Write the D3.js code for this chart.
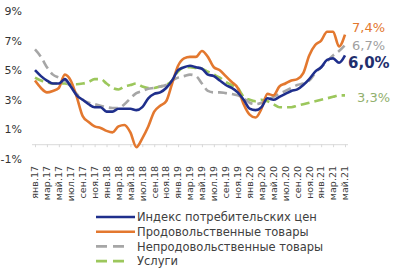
<!DOCTYPE html>
<html>
<head>
<meta charset="utf-8">
<script src="https://cdn.jsdelivr.net/npm/d3@7"></script>
<style>
  body { margin: 0; background: #fff; }
  text { font-family: "DejaVu Sans", Verdana, sans-serif; }
</style>
</head>
<body>
<div id="chart"></div>
<script>
/* DATA */
const monthNames = ["янв", "фев", "мар", "апр", "май", "июн", "июл", "авг", "сен", "окт", "ноя", "дек"];
// Jan 2017 .. May 2021, monthly
const months = d3.range(53).map(i => monthNames[i % 12] + "." + (17 + Math.floor(i / 12)));

const cpi = [5.0, 4.6, 4.3, 4.1, 4.1, 4.4, 3.9, 3.3, 3.0, 2.7, 2.5, 2.5,
  2.2, 2.2, 2.4, 2.4, 2.4, 2.3, 2.5, 3.1, 3.4, 3.5, 3.8, 4.3,
  5.0, 5.2, 5.3, 5.2, 5.1, 4.7, 4.6, 4.3, 4.0, 3.8, 3.5, 3.0,
  2.4, 2.3, 2.5, 3.1, 3.0, 3.2, 3.4, 3.6, 3.7, 4.0, 4.4, 4.9,
  5.2, 5.7, 5.8, 5.5, 6.0];
const food = [4.3, 3.8, 3.5, 3.6, 3.8, 4.7, 4.3, 3.2, 1.9, 1.5, 1.2, 1.1,
  0.9, 0.8, 1.2, 1.3, 0.8, -0.2, 0.4, 1.2, 2.2, 2.6, 2.9, 4.1,
  5.3, 5.8, 5.9, 5.9, 6.3, 5.9, 5.2, 5.0, 4.6, 4.2, 3.8, 2.7,
  2.0, 1.8, 2.4, 3.4, 3.3, 3.9, 4.1, 4.3, 4.4, 4.8, 6.0, 6.7,
  7.0, 7.6, 7.6, 6.6, 7.4];
const nonFood = [6.4, 5.9, 5.2, 4.7, 4.5, 4.3, 3.9, 3.4, 3.0, 2.8, 2.7, 2.6,
  2.5, 2.45, 2.45, 2.7, 3.1, 3.45, 3.6, 3.75, 3.8, 3.9, 4.0, 4.3,
  4.5, 4.6, 4.7, 4.6, 4.1, 3.6, 3.5, 3.5, 3.45, 3.4, 3.3, 3.1,
  2.8, 2.7, 2.8, 3.0, 3.2, 3.4, 3.6, 3.8, 4.0, 4.1, 4.3, 4.8,
  5.2, 5.6, 6.0, 6.3, 6.7];
const services = [4.5, 4.3, 4.2, 4.1, 4.1, 4.1, 4.05, 4.05, 4.1, 4.2, 4.4, 4.4,
  4.1, 3.8, 3.7, 3.9, 4.0, 4.1, 3.9, 3.8, 3.8, 3.9, 4.0, 4.3,
  4.9, 5.2, 5.2, 5.15, 5.1, 4.9, 4.7, 4.5, 4.2, 4.0, 3.8, 3.2,
  3.0, 2.9, 3.0, 2.9, 2.7, 2.5, 2.5, 2.5, 2.6, 2.7, 2.8, 2.9,
  3.0, 3.1, 3.2, 3.3, 3.3];

const yTicks = [9, 7, 5, 3, 1, -1];
const seriesNames = ["Индекс потребительских цен", "Продовольственные товары", "Непродовольственные товары", "Услуги"];
const lastLabels = ["6,0%", "7,4%", "6,7%", "3,3%"];

/* LAYOUT */
const width = 400, height = 272;

const series = [
  { name: seriesNames[0], values: cpi, color: "#1f2f8c", dash: null, label: lastLabels[0] },
  { name: seriesNames[1], values: food, color: "#e3782f", dash: null, label: lastLabels[1] },
  { name: seriesNames[2], values: nonFood, color: "#a6a6a6", dash: "9,5", label: lastLabels[2] },
  { name: seriesNames[3], values: services, color: "#9cc75c", dash: "9,5", label: lastLabels[3] }
];

const xScale = d3.scalePoint()
  .domain(months)
  .range([35, 345]);

const yScale = d3.scaleLinear()
  .domain([-1, 9])
  .range([159, 11]);

const svg = d3.select("#chart")
  .append("svg")
  .attr("width", width)
  .attr("height", height);

// y labels (no axis line)
svg.append("g")
  .selectAll("text")
  .data(yTicks)
  .join("text")
  .attr("x", 22)
  .attr("y", d => yScale(d))
  .attr("dy", "0.36em")
  .attr("text-anchor", "end")
  .attr("font-size", 11)
  .attr("fill", "#333")
  .text(d => d + "%");

// x axis at 0%
const xAxis = d3.axisBottom(xScale)
  .tickValues(months.filter((d, i) => i % 2 === 0))
  .tickSize(3)
  .tickFormat("");

const xg = svg.append("g")
  .attr("transform", `translate(0, ${yScale(0)})`)
  .call(xAxis);
xg.select(".domain").attr("stroke", "#d9d9d9").attr("d", "M32,0.5H348");
xg.selectAll(".tick line").attr("stroke", "#d9d9d9");

// x labels, rotated, at the bottom
svg.append("g")
  .selectAll("text")
  .data(months.filter((d, i) => i % 2 === 0))
  .join("text")
  .attr("transform", d => `translate(${xScale(d)}, 166) rotate(-90)`)
  .attr("dy", "0.35em")
  .attr("text-anchor", "end")
  .attr("font-size", 9.5)
  .attr("fill", "#404040")
  .text(d => d);

// lines
const line = d3.line()
  .x((d, i) => xScale(months[i]))
  .y(d => yScale(d))
  .curve(d3.curveMonotoneX);

svg.selectAll("path.line")
  .data(series.slice().reverse())
  .join("path")
  .attr("class", "line")
  .attr("fill", "none")
  .attr("stroke", d => d.color)
  .attr("stroke-width", 2.6)
  .attr("stroke-dasharray", d => d.dash)
  .attr("d", d => line(d.values));

// end labels
const endLabels = [
  { text: lastLabels[1], x: 352, y: 32, color: "#e3782f", size: 13, weight: "normal" },
  { text: lastLabels[2], x: 352, y: 50, color: "#a0a0a0", size: 13, weight: "normal" },
  { text: lastLabels[0], x: 348, y: 68, color: "#1f2f6e", size: 15, weight: "bold" },
  { text: lastLabels[3], x: 357, y: 102, color: "#92b06e", size: 13, weight: "normal" }
];
svg.append("g")
  .selectAll("text")
  .data(endLabels)
  .join("text")
  .attr("x", d => d.x)
  .attr("y", d => d.y)
  .attr("font-size", d => d.size)
  .attr("font-weight", d => d.weight)
  .attr("fill", d => d.color)
  .text(d => d.text);

// legend
const legend = svg.append("g")
  .selectAll("g")
  .data(series)
  .join("g")
  .attr("transform", (d, i) => `translate(96, ${217 + i * 14.7})`);

legend.append("line")
  .attr("x1", 0)
  .attr("x2", (d, i) => i < 2 ? 39 : 31)
  .attr("stroke", d => d.color)
  .attr("stroke-width", 2.6)
  .attr("stroke-dasharray", d => d.dash ? "11,6" : null);

legend.append("text")
  .attr("x", 41)
  .attr("dy", "0.36em")
  .attr("font-size", 11.5)
  .attr("fill", "#404040")
  .text(d => d.name);
</script>
</body>
</html>
